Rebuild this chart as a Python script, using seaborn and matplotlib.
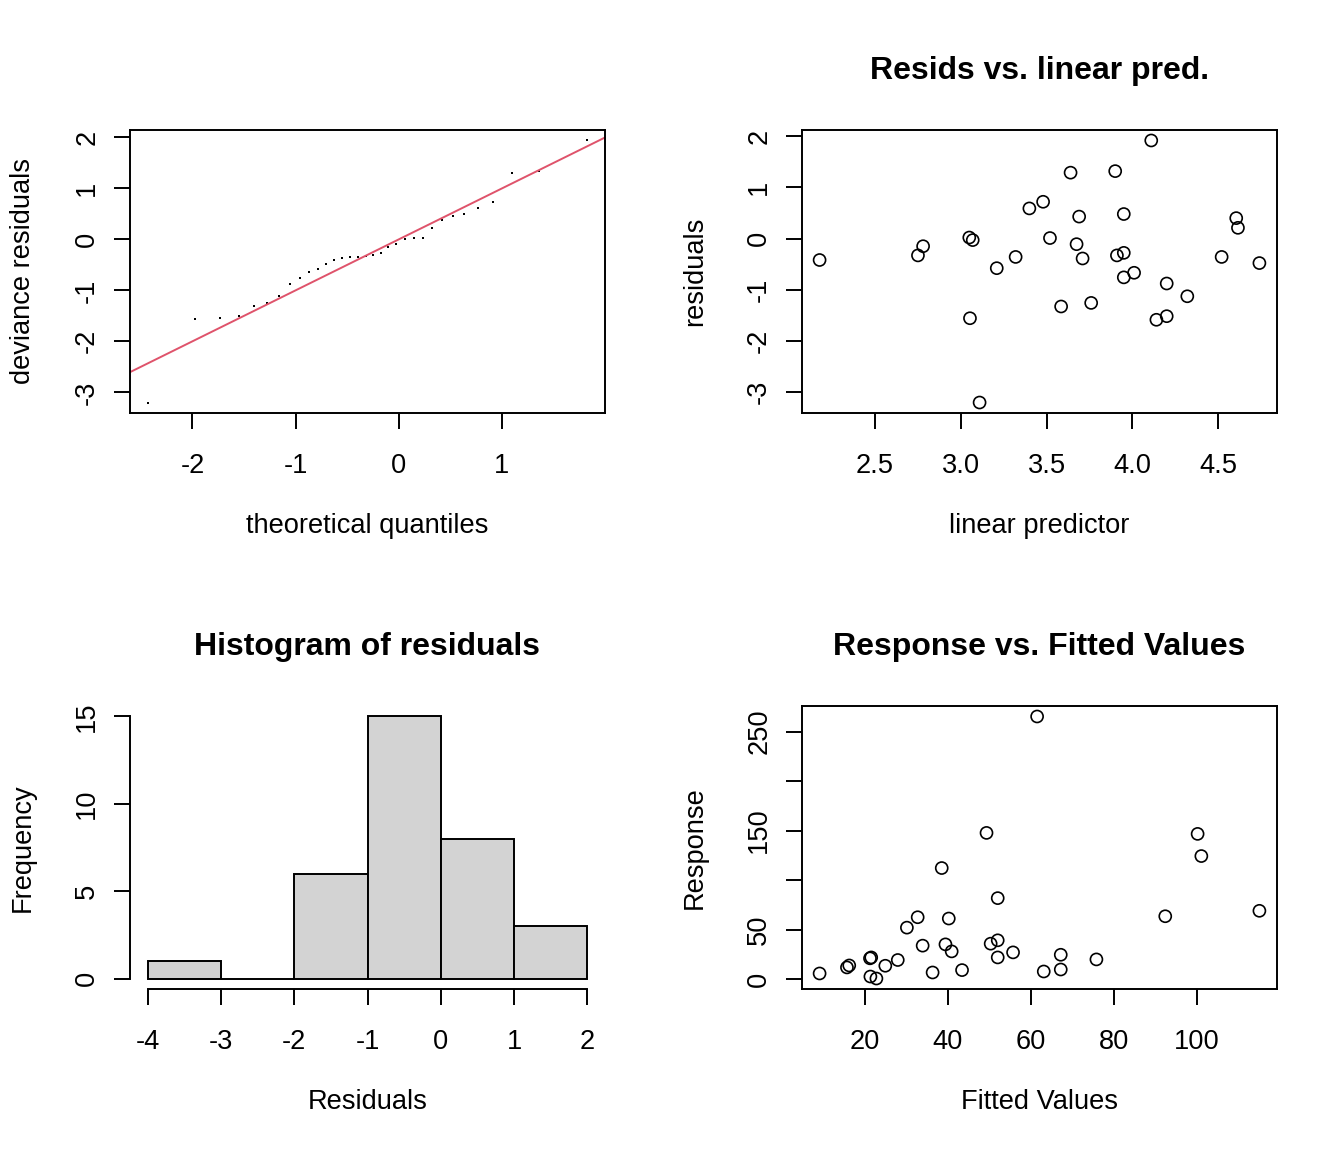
import matplotlib

matplotlib.use("Agg")
import matplotlib.pyplot as plt
import numpy as np
import seaborn as sns

# QQ plot of deviance residuals
qq_theoretical = [
    -2.434, -1.978, -1.732, -1.544, -1.402, -1.276, -1.162, -1.055, -0.961,
    -0.871, -0.787, -0.706, -0.625, -0.548, -0.473, -0.395, -0.317, -0.247,
    -0.169, -0.100, -0.022, 0.064, 0.149, 0.233, 0.320, 0.417, 0.524, 0.634,
    0.767, 0.916, 1.100, 1.362, 1.828,
]
qq_deviance = [
    -3.20, -1.56, -1.54, -1.51, -1.31, -1.25, -1.11, -0.87, -0.75, -0.64,
    -0.58, -0.48, -0.41, -0.36, -0.35, -0.35, -0.33, -0.31, -0.27, -0.14,
    -0.10, 0.00, 0.02, 0.03, 0.22, 0.39, 0.46, 0.49, 0.61, 0.74, 1.31, 1.34,
    1.94,
]

# residuals vs linear predictor
linear_pred = [
    2.178, 2.751, 2.781, 3.050, 3.070, 3.054, 3.110, 3.210, 3.320, 3.400,
    3.480, 3.520, 3.585, 3.640, 3.690, 3.675, 3.710, 3.760, 3.900, 3.950,
    3.910, 3.950, 3.950, 4.010, 4.110, 4.140, 4.200, 4.200, 4.320, 4.520,
    4.605, 4.615, 4.740,
]
resid = [
    -0.42, -0.33, -0.15, 0.02, -0.03, -1.56, -3.21, -0.58, -0.36, 0.59,
    0.72, 0.01, -1.33, 1.29, 0.43, -0.11, -0.39, -1.26, 1.32, 0.48,
    -0.33, -0.28, -0.76, -0.67, 1.92, -1.59, -1.52, -0.88, -1.13, -0.36,
    0.40, 0.21, -0.48,
]

# histogram of residuals
hist_edges = [-4, -3, -2, -1, 0, 1, 2]
hist_counts = [1, 0, 6, 15, 8, 3]

# response vs fitted values
fitted = [
    9.05, 15.65, 16.2, 21.5, 21.2, 21.3, 22.75, 24.9, 27.9, 30.1, 32.7,
    33.9, 36.3, 38.5, 39.4, 40.2, 40.9, 43.4, 49.3, 50.3, 52.0, 52.0, 52.0,
    55.7, 61.5, 63.1, 67.2, 67.2, 75.8, 92.4, 100.2, 101.1, 115.1,
]
response = [
    5.7, 11.8, 13.8, 21.9, 21.0, 2.6, 0.6, 13.5, 19.3, 52.0, 62.5,
    33.8, 6.7, 112.2, 35.1, 61.2, 28.0, 9.1, 147.7, 35.8, 39.2, 81.8, 21.9,
    27.0, 265.3, 7.7, 24.6, 9.7, 19.9, 63.5, 146.7, 124.3, 69.0,
]

R_RED = "#DF536B"
LW = 1.4
FS = 19.6
TITLE_FS = 23
W, H = 1344, 1152
BOX_W, BOX_H = 475, 283


def r_range(values):
    lo, hi = min(values), max(values)
    pad = 0.04 * (hi - lo)
    return lo - pad, hi + pad


def make_axes(fig, left_px, top_px):
    return fig.add_axes(
        [left_px / W, 1 - (top_px + BOX_H) / H, BOX_W / W, BOX_H / H]
    )


def style_axes(ax, xticks, yticks, xlabels=None, ylabels=None):
    ax.set_xticks(xticks)
    ax.set_xticklabels(xlabels if xlabels else [str(t) for t in xticks])
    ax.set_yticks(yticks)
    ax.set_yticklabels(ylabels if ylabels else [str(t) for t in yticks])
    ax.tick_params(
        axis="both", direction="out", length=11.5, width=LW,
        labelsize=FS, color="black", labelcolor="black",
        bottom=True, left=True, top=False, right=False,
    )
    ax.tick_params(axis="x", pad=17.5)
    ax.tick_params(axis="y", pad=10)
    for lbl in ax.get_yticklabels():
        lbl.set_rotation(90)
        lbl.set_va("center")
        lbl.set_ha("right")
    for sp in ax.spines.values():
        sp.set_linewidth(LW)
        sp.set_color("black")
    ax.set_xlabel("")
    ax.set_ylabel("")
    ax.grid(False)


def add_labels(ax, xlabel, ylabel, title=None):
    ax.text(
        0.5, -120 / BOX_H, xlabel, transform=ax.transAxes,
        ha="center", va="baseline", fontsize=FS, color="black",
    )
    ax.text(
        -100 / BOX_W, 0.5, ylabel, transform=ax.transAxes, rotation=90,
        rotation_mode="anchor", ha="center", va="baseline", fontsize=FS,
        color="black",
    )
    if title:
        ax.set_title(
            title, fontsize=TITLE_FS, fontweight="bold", pad=36.7,
            color="black",
        )


sns.set_style("white")
plt.rcParams["font.family"] = ["Liberation Sans", "DejaVu Sans"]
plt.rcParams["axes.unicode_minus"] = False
plt.rcParams["text.color"] = "black"

fig = plt.figure(figsize=(W / 100, H / 100), dpi=100)

# top left: QQ plot
ax1 = make_axes(fig, 130, 130)
sns.scatterplot(
    x=qq_theoretical, y=qq_deviance, ax=ax1, marker="s", s=2.2,
    color="black", linewidth=0,
)
ax1.axline((0, 0), slope=1, color=R_RED, lw=LW)
ax1.set_xlim(*r_range(qq_theoretical))
ax1.set_ylim(*r_range(qq_deviance))
style_axes(ax1, [-2, -1, 0, 1], [-3, -2, -1, 0, 1, 2])
add_labels(ax1, "theoretical quantiles", "deviance residuals")

# top right: residuals vs linear predictor
ax2 = make_axes(fig, 802, 130)
sns.scatterplot(
    x=linear_pred, y=resid, ax=ax2, marker="o", s=75,
    facecolors="none", edgecolors="black", linewidth=1.2,
)
ax2.set_xlim(*r_range(linear_pred))
ax2.set_ylim(*r_range(resid))
style_axes(
    ax2, [2.5, 3.0, 3.5, 4.0, 4.5], [-3, -2, -1, 0, 1, 2],
    xlabels=["2.5", "3.0", "3.5", "4.0", "4.5"],
)
add_labels(ax2, "linear predictor", "residuals", "Resids vs. linear pred.")

# bottom left: histogram
ax3 = make_axes(fig, 130, 706)
centers = [(a + b) / 2 for a, b in zip(hist_edges[:-1], hist_edges[1:])]
sns.histplot(
    x=centers, weights=hist_counts, bins=hist_edges, ax=ax3,
    color="#D3D3D3", edgecolor="black", linewidth=LW, alpha=1,
)
ax3.set_xlim(*r_range(hist_edges))
ax3.set_ylim(*r_range([0] + hist_counts))
style_axes(ax3, hist_edges, [0, 5, 10, 15])
ax3.spines["top"].set_visible(False)
ax3.spines["right"].set_visible(False)
ax3.spines["left"].set_bounds(0, 15)
ax3.spines["bottom"].set_bounds(-4, 2)
add_labels(ax3, "Residuals", "Frequency", "Histogram of residuals")

# bottom right: response vs fitted
ax4 = make_axes(fig, 802, 706)
sns.scatterplot(
    x=fitted, y=response, ax=ax4, marker="o", s=75,
    facecolors="none", edgecolors="black", linewidth=1.2,
)
ax4.set_xlim(*r_range(fitted))
ax4.set_ylim(*r_range(response))
style_axes(
    ax4, [20, 40, 60, 80, 100], [0, 50, 100, 150, 200, 250],
    ylabels=["0", "50", "", "150", "", "250"],
)
add_labels(ax4, "Fitted Values", "Response", "Response vs. Fitted Values")

fig.savefig("out.png", dpi=100)
